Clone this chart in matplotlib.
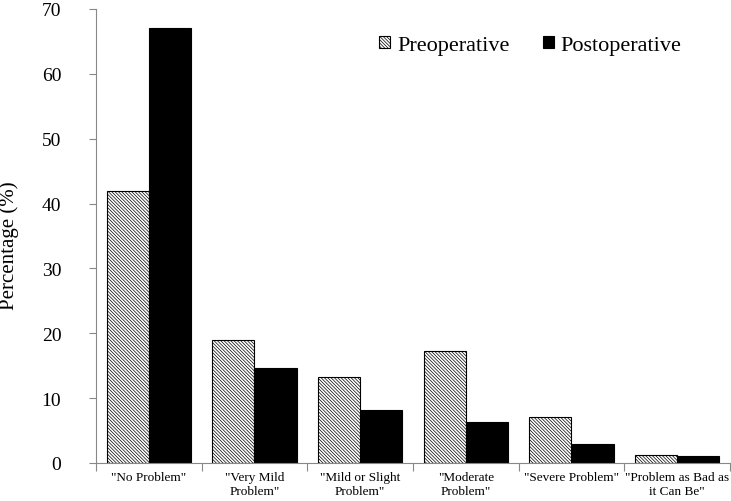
import matplotlib
matplotlib.use("Agg")
import matplotlib.pyplot as plt
import numpy as np

categories = ['"No Problem"', '"Very Mild\nProblem"', '"Mild or Slight\nProblem"',
              '"Moderate\nProblem"', '"Severe Problem"', '"Problem as Bad as\nit Can Be"']
preoperative = [42.0, 18.9, 13.2, 17.3, 7.1, 1.3]
postoperative = [67.1, 14.6, 8.2, 6.3, 2.9, 1.1]

plt.rcParams['font.family'] = ['Liberation Serif', 'DejaVu Serif']
plt.rcParams['hatch.linewidth'] = 0.5
plt.rcParams['hatch.color'] = '#333333'

fig = plt.figure(figsize=(7.31, 5.02), dpi=100)
ax = fig.add_axes([96 / 731, 38 / 502, 634 / 731, 454 / 502])

x = np.arange(len(categories))
ax.bar(x - 0.2, preoperative, 0.4, color='white', edgecolor='black', linewidth=0.8,
       hatch='\\' * 10, label='Preoperative')
ax.bar(x + 0.2, postoperative, 0.4, color='black', edgecolor='black', linewidth=0.8,
       label='Postoperative')

ax.set_xlim(-0.5, len(categories) - 0.5)
ax.set_ylim(0, 70)
ax.set_yticks(range(0, 71, 10))
ax.tick_params(axis='y', labelsize=14, color='#888888', length=5, width=0.8, pad=20)

ax.set_xticks(np.arange(-0.5, len(categories), 1.0))
ax.set_xticklabels([])
ax.tick_params(axis='x', which='major', color='#888888', length=6, width=0.8)
ax.set_xticks(x, minor=True)
ax.set_xticklabels(categories, minor=True, fontsize=9.5, linespacing=1.2)
ax.tick_params(axis='x', which='minor', length=0, pad=6)

for side in ['top', 'right']:
    ax.spines[side].set_visible(False)
for side in ['left', 'bottom']:
    ax.spines[side].set_color('#888888')
    ax.spines[side].set_linewidth(0.8)

ax.set_ylabel('Percentage (%)', fontsize=15)
ax.yaxis.set_label_coords(-0.122, 0.48)

ax.legend(loc='upper right', bbox_to_anchor=(0.955, 0.985), ncol=2, frameon=False,
          fontsize=16, handlelength=0.5, handleheight=0.5, handletextpad=0.3,
          columnspacing=1.5)

fig.savefig('out.png', dpi=100)
